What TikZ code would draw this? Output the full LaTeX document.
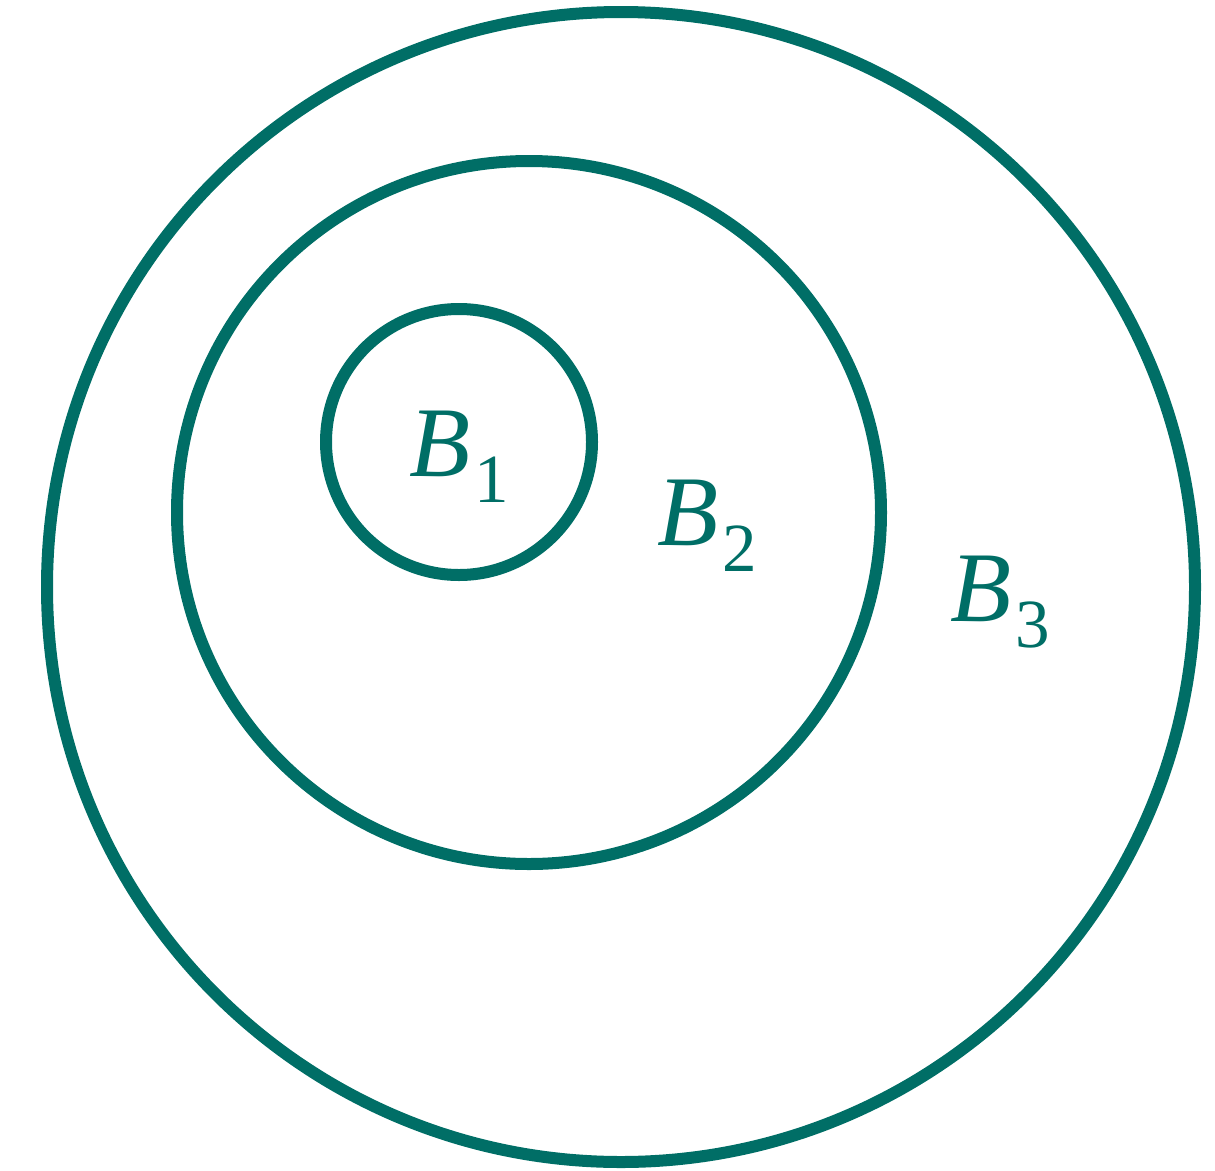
\documentclass[tikz,border=0pt]{standalone}
\usepackage{fontspec}
\setmainfont{Liberation Serif}
\definecolor{teal1}{RGB}{0,110,102}
\newcommand{\blabel}[1]{{\fontsize{100}{100}\selectfont\itshape B}\kern4pt\raisebox{-26pt}{\fontsize{69}{69}\selectfont #1}}
\begin{document}
\begin{tikzpicture}[x=1pt,y=-1pt,
  ring/.style={draw=teal1,line width=12pt},
  lbl/.style={text=teal1,inner sep=0pt,anchor=base west}]
\useasboundingbox (0,0) rectangle (1215,1170);
\draw[ring] (621,587) ellipse [x radius=574, y radius=575];
\draw[ring] (529,512.5) ellipse [x radius=352, y radius=351.5];
\draw[ring] (459,442) ellipse [x radius=133, y radius=133];
\node[lbl] (b1) at (409,476) {\blabel{1}};
\node[lbl] (b2) at (657,545) {\blabel{2}};
\node[lbl] (b3) at (950,621) {\blabel{3}};
\end{tikzpicture}
\end{document}
